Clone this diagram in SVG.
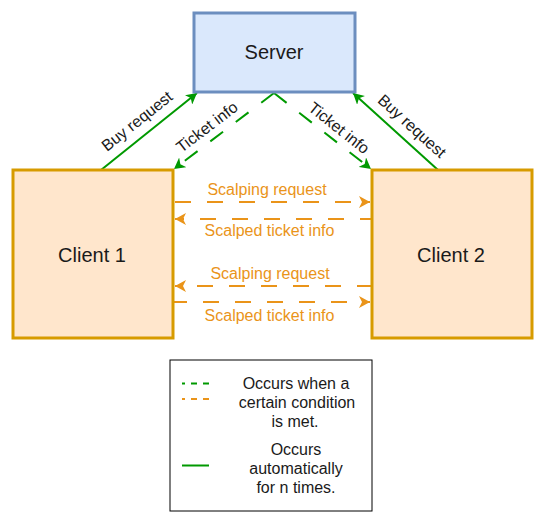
<svg xmlns="http://www.w3.org/2000/svg" width="543" height="522" viewBox="0 0 543 522">
  <style>
    .server { fill: #dae8fc; stroke: #6c8ebf; stroke-width: 3; }
    .client { fill: #ffe6cc; stroke: #d79b00; stroke-width: 3; }
    .node-text { font-family: "Liberation Sans", Arial, sans-serif; font-size: 20px; fill: #1a1a1a; text-anchor: middle; }
    .g-line { fill: none; stroke: #009900; stroke-width: 2; }
    .o-line { fill: none; stroke: #ea9419; stroke-width: 2; }
    .dash { stroke-dasharray: 16 16; }
    .g-label { font-family: "Liberation Sans", Arial, sans-serif; font-size: 16px; fill: #1a1a1a; text-anchor: middle; }
    .o-label { font-family: "Liberation Sans", Arial, sans-serif; font-size: 16px; fill: #ea9419; text-anchor: middle; }
    .legend-box { fill: #ffffff; stroke: #000000; stroke-width: 1; }
    .legend-text { font-family: "Liberation Sans", Arial, sans-serif; font-size: 16px; fill: #1a1a1a; text-anchor: middle; }
  </style>
  <defs>
    <marker id="arrG" markerUnits="userSpaceOnUse" markerWidth="12" markerHeight="12" refX="11" refY="6" orient="auto">
      <path d="M0,0 L11,6 L0,12 L3,6 Z" fill="#009900"/>
    </marker>
    <marker id="arrO" markerUnits="userSpaceOnUse" markerWidth="12" markerHeight="12" refX="11" refY="6" orient="auto">
      <path d="M0,0 L11,6 L0,12 L3,6 Z" fill="#ea9419"/>
    </marker>
  </defs>
  <rect width="543" height="522" fill="#ffffff"/>

  <g id="connectors">
    <path class="g-line" d="M101,170 L197,93" marker-end="url(#arrG)"/>
    <path class="g-line dash" d="M274,93 L174,169" marker-end="url(#arrG)"/>
    <path class="g-line dash" d="M274,93 L371,169" marker-end="url(#arrG)"/>
    <path class="g-line" d="M438,170 L353,93" marker-end="url(#arrG)"/>
    <path class="o-line dash" d="M175,202 L370,202" marker-end="url(#arrO)"/>
    <path class="o-line dash" d="M376,219 L175,219" marker-end="url(#arrO)"/>
    <path class="o-line dash" d="M373,286 L175,286" marker-end="url(#arrO)"/>
    <path class="o-line dash" d="M171,302 L370,302" marker-end="url(#arrO)"/>
    <text class="g-label" transform="translate(137,121) rotate(-38.5)" y="5.5">Buy request</text>
    <text class="g-label" transform="translate(207,127) rotate(-37.3)" y="5.5">Ticket info</text>
    <text class="g-label" transform="translate(339,128) rotate(38.4)" y="5.5">Ticket info</text>
    <text class="g-label" transform="translate(412,126) rotate(42.2)" y="5.5">Buy request</text>
    <text class="o-label" x="267" y="195">Scalping request</text>
    <text class="o-label" x="269.5" y="236">Scalped ticket info</text>
    <text class="o-label" x="270" y="279">Scalping request</text>
    <text class="o-label" x="269.5" y="320.5">Scalped ticket info</text>
  </g>

  <g id="server">
    <rect class="server" x="194" y="13" width="161" height="79"/>
    <text class="node-text" x="274" y="59">Server</text>
  </g>
  <g id="client1">
    <rect class="client" x="13" y="170" width="160" height="168"/>
    <text class="node-text" x="92" y="262">Client 1</text>
  </g>
  <g id="client2">
    <rect class="client" x="372" y="170" width="160" height="168"/>
    <text class="node-text" x="451" y="262">Client 2</text>
  </g>

  <g id="legend">
    <rect class="legend-box" x="170" y="360" width="202" height="151"/>
    <path d="M209,383.5 L182,383.5" stroke="#009900" stroke-width="2" stroke-dasharray="6 6"/>
    <path d="M209,399 L182,399" stroke="#ea9419" stroke-width="2" stroke-dasharray="6 6"/>
    <path d="M182,465.5 L209,465.5" stroke="#009900" stroke-width="2"/>
    <text class="legend-text" x="296" y="389">Occurs when a</text>
    <text class="legend-text" x="297" y="408">certain condition</text>
    <text class="legend-text" x="295" y="427">is met.</text>
    <text class="legend-text" x="296" y="455">Occurs</text>
    <text class="legend-text" x="296" y="474">automatically</text>
    <text class="legend-text" x="296" y="493">for n times.</text>
  </g>
</svg>
